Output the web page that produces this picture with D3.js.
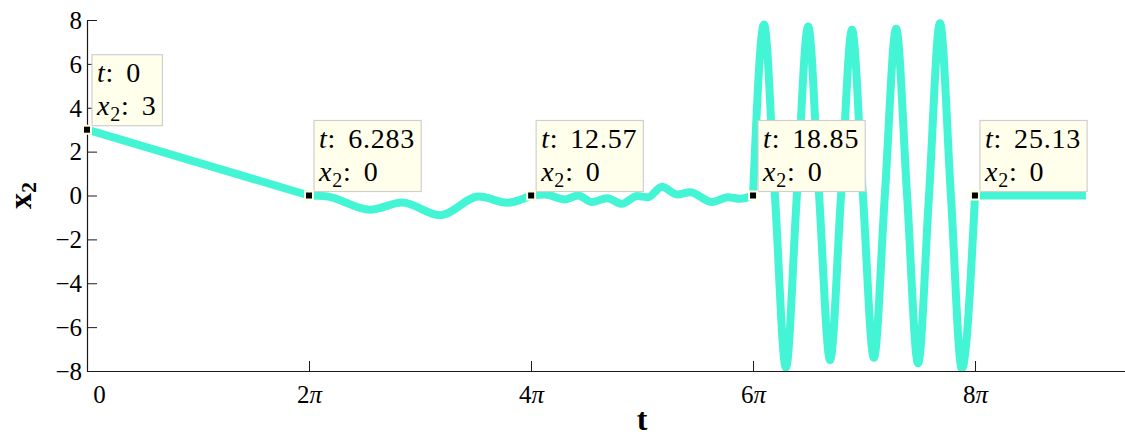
<!DOCTYPE html>
<html>
<head>
<meta charset="utf-8">
<script src="https://cdn.jsdelivr.net/npm/d3@7"></script>
<style>
  html, body { margin: 0; padding: 0; background: #fff; }
  svg { display: block; }
  svg text { font-family: "Liberation Serif", "DejaVu Serif", "Times New Roman", serif !important; }
</style>
</head>
<body>
<svg id="chart" width="1125" height="436"></svg>
<script>
// ---------- data ----------
const tValues = [
  0, 6.2832,
  6.75, 8.01, 8.92, 9.99, 11.09, 11.89, 12.566,
  12.96, 13.53, 13.90, 14.29, 14.72, 15.14, 15.57, 15.88, 16.27, 16.70, 17.07, 17.69, 18.14, 18.48, 18.850,
  19.16, 19.47, 19.78, 20.09, 20.41, 20.72, 21.03, 21.34, 21.65, 21.96, 22.27, 22.58, 22.90, 23.21, 23.52, 23.83, 24.14, 24.45, 24.76, 25.133,
  28.27
];
const x2Values = [
  3, 0,
  -0.03, -0.65, -0.32, -0.9, -0.05, -0.33, 0,
  0.05, -0.18, 0, -0.3, -0.12, -0.38, -0.02, -0.08, 0.4, 0.05, 0.15, -0.3, -0.08, -0.15, 0,
  7.8, 0, -7.85, 0, 7.7, 0, -7.5, 0, 7.55, 0, -7.4, 0, 7.6, 0, -7.65, 0, 7.85, 0, -7.9, 0,
  0
];
const tipT = [0, 6.283, 12.57, 18.85, 25.13];
const tipX2 = [3, 0, 0, 0, 0];
const tipTLabels = ["0", "6.283", "12.57", "18.85", "25.13"];
const tipX2Labels = ["3", "0", "0", "0", "0"];
const xTickMultiples = [0, 2, 4, 6, 8];
const xTickLabels = ["0", "2π", "4π", "6π", "8π"];
const yTickValues = [-8, -6, -4, -2, 0, 2, 4, 6, 8];

// ---------- layout ----------
const svg = d3.select("#chart");
const pL = 87, pT = 20, pB = 371, pR = 1147;
const x = d3.scaleLinear().domain([0, 30]).range([pL, pR]);
const y = d3.scaleLinear().domain([-8, 8]).range([pB, pT]);
const lineColor = "#43f5d4";
const axisColor = "#1a1a1a";

svg.append("defs").append("clipPath").attr("id", "plotclip")
  .append("rect").attr("x", pL).attr("y", pT - 2).attr("width", pR - pL).attr("height", pB - pT + 2);

// ---------- axes ----------
const xAxis = d3.axisBottom(x)
  .tickValues(xTickMultiples.map(m => m * Math.PI))
  .tickSize(-10).tickSizeOuter(0)
  .tickFormat((d, i) => xTickLabels[i]);
const gx = svg.append("g").attr("transform", `translate(0,${pB})`).call(xAxis);
gx.attr("font-family", null);
gx.select(".domain").attr("stroke", axisColor).attr("stroke-width", 1.2);
gx.selectAll(".tick line").attr("stroke", axisColor);
gx.selectAll(".tick text")
  .attr("y", 32).attr("dy", 0)
  .attr("font-size", 25)
  .attr("fill", "#000")
  .attr("dx", (d, i) => i === 0 ? 12 : 0)
  .each(function (d, i) {
    const s = xTickLabels[i];
    const t = d3.select(this);
    if (s.includes("π")) {
      t.text(null);
      t.append("tspan").text(s.replace("π", ""));
      t.append("tspan").attr("font-style", "italic").text("π");
    }
  });

const yAxis = d3.axisLeft(y)
  .tickValues(yTickValues)
  .tickSize(-10).tickSizeOuter(0)
  .tickFormat(d => d < 0 ? "\u2212" + Math.abs(d) : String(d));
const gy = svg.append("g").attr("transform", `translate(${pL},0)`).call(yAxis);
gy.attr("font-family", null);
gy.select(".domain").attr("stroke", axisColor).attr("stroke-width", 1.2);
gy.selectAll(".tick line").attr("stroke", axisColor);
gy.selectAll(".tick text")
  .attr("x", -5).attr("dy", "0.33em")
  .attr("font-size", 25)
  .attr("fill", "#000");

// axis labels
svg.append("text")
  .attr("x", (x(4 * Math.PI) + x(6 * Math.PI)) / 2)
  .attr("y", 430)
  .attr("text-anchor", "middle")
  .attr("font-size", 32).attr("font-weight", "bold")
  .text("t");
const yl = svg.append("text")
  .attr("transform", `translate(31,${(pT + pB) / 2}) rotate(-90)`)
  .attr("text-anchor", "middle")
  .attr("font-size", 32).attr("font-weight", "bold");
yl.append("tspan").text("x");
yl.append("tspan").attr("font-size", 22).attr("dy", 5).text("2");

// ---------- curve ----------
const points = tValues.map((t, i) => ({ t, v: x2Values[i] }));
// split into segments at the datatip positions
const bIdx = tipT.map(tt => d3.minIndex(points, p => Math.abs(p.t - tt)));
bIdx.push(points.length - 1);
const segments = [];
for (let i = 0; i < bIdx.length - 1; i++) segments.push(points.slice(bIdx[i], bIdx[i + 1] + 1));

const line = d3.line().x(d => x(d.t)).y(d => y(d.v)).curve(d3.curveMonotoneX);
const gLine = svg.append("g").attr("clip-path", "url(#plotclip)");
gLine.selectAll("path").data(segments).join("path")
  .attr("d", line)
  .attr("fill", "none")
  .attr("stroke", lineColor)
  .attr("stroke-width", 8)
  .attr("stroke-linejoin", "round")
  .attr("stroke-linecap", "butt");

// ---------- datatips ----------
const tips = tipT.map((t, i) => ({ t, v: tipX2[i], tl: tipTLabels[i], xl: tipX2Labels[i] }));
const gTips = svg.append("g");
tips.forEach(d => {
  const mx = x(d.t), my = y(d.v);
  const g = gTips.append("g");
  const rect = g.append("rect").attr("fill", "#ffffec").attr("stroke", "#cfcfcf").attr("stroke-width", 1.2);
  const bx = mx + 5, bb = my - 4, bh = 71, bt = bb - bh;
  const t1 = g.append("text").attr("x", bx + 5).attr("y", bt + 27).attr("font-size", 28)
    .attr("letter-spacing", 0.8).attr("fill", "#000");
  t1.append("tspan").attr("font-style", "italic").text("t");
  t1.append("tspan").text(":");
  t1.append("tspan").attr("dx", 12).text(d.tl);
  const t2 = g.append("text").attr("x", bx + 5).attr("y", bt + 60).attr("font-size", 28)
    .attr("letter-spacing", 0.8).attr("fill", "#000");
  t2.append("tspan").attr("font-style", "italic").text("x");
  t2.append("tspan").attr("font-size", 20).attr("dy", 6).text("2");
  t2.append("tspan").attr("dy", -6).text(":");
  t2.append("tspan").attr("dx", 12).text(d.xl);
  const b1 = t1.node().getBBox(), b2 = t2.node().getBBox();
  const rightEdge = Math.max(b1.x + b1.width, b2.x + b2.width);
  rect.attr("x", bx).attr("y", bt).attr("width", rightEdge - bx + 6).attr("height", bh);
  g.append("rect")
    .attr("x", mx - 4).attr("y", my - 4).attr("width", 8).attr("height", 8)
    .attr("fill", "#000").attr("stroke", "#ffffe0").attr("stroke-width", 2);
});
</script>
</body>
</html>
